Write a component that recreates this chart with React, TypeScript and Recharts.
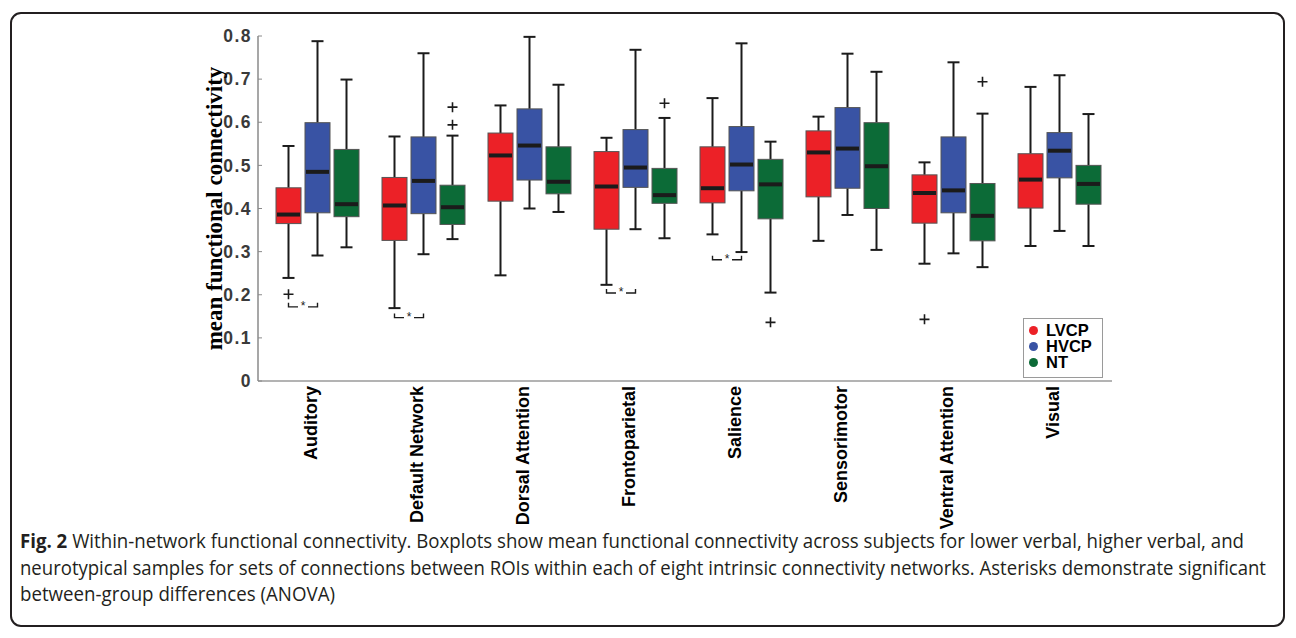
import { ComposedChart, Bar, XAxis, YAxis } from "recharts";

// ─── Data ────────────────────────────────────────────────────────────────────

const networks = [
	"Auditory",
	"Default Network",
	"Dorsal Attention",
	"Frontoparietal",
	"Salience",
	"Sensorimotor",
	"Ventral Attention",
	"Visual",
];

const groups = ["LVCP", "HVCP", "NT"];
const groupColors = ["#ec2127", "#3953a4", "#0c6b37"];

// [lower whisker, q1, median, q3, upper whisker]
const lvcpStats = [
	[0.239, 0.365, 0.386, 0.448, 0.545],
	[0.169, 0.326, 0.407, 0.472, 0.567],
	[0.245, 0.417, 0.523, 0.575, 0.639],
	[0.223, 0.352, 0.451, 0.532, 0.564],
	[0.34, 0.413, 0.447, 0.543, 0.656],
	[0.325, 0.427, 0.53, 0.58, 0.613],
	[0.272, 0.366, 0.436, 0.478, 0.507],
	[0.313, 0.401, 0.467, 0.527, 0.682],
];
const hvcpStats = [
	[0.291, 0.39, 0.485, 0.599, 0.788],
	[0.294, 0.388, 0.464, 0.566, 0.76],
	[0.4, 0.466, 0.546, 0.631, 0.798],
	[0.352, 0.449, 0.495, 0.583, 0.768],
	[0.299, 0.441, 0.502, 0.59, 0.783],
	[0.385, 0.447, 0.539, 0.634, 0.759],
	[0.296, 0.39, 0.442, 0.566, 0.739],
	[0.348, 0.471, 0.534, 0.576, 0.709],
];
const ntStats = [
	[0.31, 0.381, 0.41, 0.537, 0.699],
	[0.329, 0.363, 0.403, 0.454, 0.569],
	[0.392, 0.434, 0.462, 0.543, 0.687],
	[0.331, 0.412, 0.431, 0.493, 0.61],
	[0.205, 0.376, 0.456, 0.514, 0.555],
	[0.304, 0.4, 0.498, 0.599, 0.717],
	[0.264, 0.325, 0.383, 0.458, 0.62],
	[0.313, 0.41, 0.457, 0.5, 0.619],
];

const lvcpOutliers = [[0.201], [], [], [], [], [], [0.143], []];
const hvcpOutliers = [[], [], [], [], [], [], [], []];
const ntOutliers = [[], [0.635, 0.594], [], [0.644], [0.136], [], [0.694], []];

// LVCP vs HVCP significance brackets (ANOVA)
const sigBrackets = [0.172, 0.147, null, 0.204, 0.281, null, null, null];

const yTicks = [0, 0.1, 0.2, 0.3, 0.4, 0.5, 0.6, 0.7, 0.8];

const captionLines = [
	"Within-network functional connectivity. Boxplots show mean functional connectivity across subjects for lower verbal, higher verbal, and",
	"neurotypical samples for sets of connections between ROIs within each of eight intrinsic connectivity networks. Asterisks demonstrate significant",
	"between-group differences (ANOVA)",
];
const captionWidths = [1224, 1246, 315];

const statsBySeries = [lvcpStats, hvcpStats, ntStats];
const outliersBySeries = [lvcpOutliers, hvcpOutliers, ntOutliers];

const chartData = networks.map((name, i) => {
	const row: any = { name, sig: sigBrackets[i] };
	groups.forEach((g, s) => {
		row[g] = { stats: statsBySeries[s][i], out: outliersBySeries[s][i] };
	});
	return row;
});

// ─── Styles ──────────────────────────────────────────────────────────────────

const BAR_SIZE = 25;
const BAR_GAP = 4;
const sansBold = { fontFamily: "'Liberation Sans', Arial, sans-serif", fontWeight: 700 };
const inkColor = "#1b1b1b";

// ─── Box shape ───────────────────────────────────────────────────────────────
// The bar spans [lower whisker, upper whisker]; everything else is placed on
// the same linear scale derived from that rectangle.

function BoxShape(props: any) {
	const { x, y, width, height, payload, group, color, withBracket } = props;
	const { stats, out } = payload[group];
	const [lo, q1, med, q3, hi] = stats;
	const k = height / (hi - lo);
	const py = (v: number) => y + (hi - v) * k;
	const cx = x + width / 2;
	const cap = 6;

	let bracket = null;
	if (withBracket && payload.sig != null) {
		const by = py(payload.sig);
		const x2 = cx + width + BAR_GAP;
		const mid = (cx + x2) / 2;
		bracket = (
			<g>
				<path
					d={`M${cx},${by - 4}L${cx},${by}L${mid - 5},${by}M${mid + 5},${by}L${x2},${by}L${x2},${by - 4}`}
					fill="none"
					stroke={inkColor}
					strokeWidth={1.4}
				/>
				<text
					x={mid}
					y={by + 3}
					textAnchor="middle"
					fontSize={12}
					fill={inkColor}
					fontFamily="'Liberation Sans', Arial, sans-serif"
				>
					*
				</text>
			</g>
		);
	}

	return (
		<g>
			<line x1={cx} x2={cx} y1={py(hi)} y2={py(q3)} stroke={inkColor} strokeWidth={2} />
			<line x1={cx} x2={cx} y1={py(q1)} y2={py(lo)} stroke={inkColor} strokeWidth={2} />
			<line x1={cx - cap} x2={cx + cap} y1={py(hi)} y2={py(hi)} stroke={inkColor} strokeWidth={2} />
			<line x1={cx - cap} x2={cx + cap} y1={py(lo)} y2={py(lo)} stroke={inkColor} strokeWidth={2} />
			<rect
				x={x}
				y={py(q3)}
				width={width}
				height={py(q1) - py(q3)}
				fill={color}
				stroke="#555"
				strokeWidth={1}
			/>
			<line x1={x + 1} x2={x + width - 1} y1={py(med)} y2={py(med)} stroke={inkColor} strokeWidth={4} />
			{out.map((v: number, j: number) => (
				<path
					key={j}
					d={`M${cx - 5},${py(v)}L${cx + 5},${py(v)}M${cx},${py(v) - 5}L${cx},${py(v) + 5}`}
					stroke={inkColor}
					strokeWidth={1.6}
				/>
			))}
			{bracket}
		</g>
	);
}

function NetworkTick({ x, y, payload }: any) {
	const tx = x - 6;
	const ty = y - 3;
	return (
		<text
			x={tx}
			y={ty}
			transform={`rotate(-90 ${tx} ${ty})`}
			textAnchor="end"
			dominantBaseline="central"
			fontSize={18}
			fill="#000"
			{...sansBold}
		>
			{payload.value}
		</text>
	);
}

// ─── Chart ───────────────────────────────────────────────────────────────────

export default function App() {
	return (
		<div
			style={{
				position: "absolute",
				left: 0,
				top: 0,
				width: 1296,
				height: 638,
				background: "#fff",
				overflow: "hidden",
			}}
		>
			<div
				style={{
					position: "absolute",
					left: 10,
					top: 12,
					width: 1271,
					height: 611,
					border: "2px solid #231f20",
					borderRadius: 11,
				}}
			/>
			<div style={{ position: "absolute", left: 0, top: 0 }}>
				<ComposedChart
					width={1296}
					height={535}
					data={chartData}
					margin={{ top: 36, right: 184, left: 198, bottom: 4 }}
					barSize={BAR_SIZE}
					barGap={BAR_GAP}
				>
					<XAxis
						dataKey="name"
						interval={0}
						height={150}
						padding={{ left: 6, right: 0 }}
						tickLine={false}
						axisLine={{ stroke: "#9a9a9a", strokeWidth: 1.5 }}
						tick={<NetworkTick />}
					/>
					<YAxis
						domain={[0, 0.8]}
						ticks={yTicks}
						width={60}
						tickSize={-4}
						tickMargin={10}
						tickLine={{ stroke: "#8a8a8a" }}
						axisLine={{ stroke: "#8a8a8a", strokeWidth: 1.5 }}
						tickFormatter={(v: number) => (v === 0 ? "0" : v.toFixed(1))}
						tick={{ fontSize: 17.5, fill: "#3a3a3a", letterSpacing: 1.5, ...sansBold }}
						label={{
							value: "mean functional connectivity",
							angle: -90,
							position: "insideLeft",
							offset: 16,
							style: {
								textAnchor: "middle",
								fontFamily: "'Liberation Serif', 'Times New Roman', serif",
								fontWeight: 700,
								fontSize: 23,
								fill: "#000",
							},
						}}
					/>
					{groups.map((g, s) => (
						<Bar
							key={g}
							dataKey={(d: any) => [d[g].stats[0], d[g].stats[4]]}
							name={g}
							fill={groupColors[s]}
							isAnimationActive={false}
							shape={(p: any) => (
								<BoxShape {...p} group={g} color={groupColors[s]} withBracket={s === 0} />
							)}
						/>
					))}
				</ComposedChart>
			</div>

			{/* legend */}
			<div
				style={{
					position: "absolute",
					left: 1023,
					top: 318,
					width: 78,
					height: 55,
					border: "1px solid #9a9a9a",
					background: "#fff",
					paddingTop: 3,
					boxSizing: "content-box",
				}}
			>
				{groups.map((g, s) => (
					<div
						key={g}
						style={{
							display: "flex",
							alignItems: "center",
							height: 16,
							...sansBold,
							fontSize: 16.5,
							lineHeight: "16px",
							color: "#000",
						}}
					>
						<span
							style={{
								display: "inline-block",
								width: 9,
								height: 9,
								borderRadius: "50%",
								background: groupColors[s],
								marginLeft: 5,
								marginRight: 8,
							}}
						/>
						{g}
					</div>
				))}
			</div>

			{/* caption: a narrow face, stretched vertically to mimic the condensed original */}
			<svg
				width={1296}
				height={100}
				style={{ position: "absolute", left: 0, top: 528 }}
			>
				{captionLines.map((line, i) => (
					<text
						key={i}
						x={20}
						y={0}
						transform={`translate(0 ${20 + i * 26.5}) scale(1 1.24)`}
						fontSize={16}
						fill="#231f20"
						fontFamily="'Open Sans', 'Liberation Sans', sans-serif"
						textLength={captionWidths[i]}
						lengthAdjust="spacingAndGlyphs"
					>
						{i === 0 && <tspan fontWeight={700}>Fig. 2 </tspan>}
						{line}
					</text>
				))}
			</svg>
		</div>
	);
}
